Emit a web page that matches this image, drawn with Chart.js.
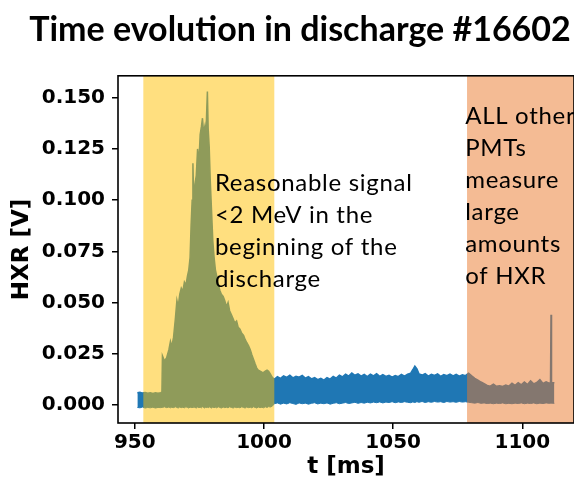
<!DOCTYPE html>
<html>
<head>
<meta charset="utf-8">
<script src="https://cdn.jsdelivr.net/npm/chart.js@4.4.1/dist/chart.umd.min.js"></script>
<style>
  html, body { margin: 0; padding: 0; background: #fff; overflow: hidden; }
  #wrap { width: 600px; height: 480px; }
</style>
</head>
<body>
<div id="wrap"><canvas id="hxrChart" width="600" height="480"></canvas></div>
<script>
// HXR signal envelope (max / min of the raw trace) over time in ms
const tMs = [
  951.0, 952.0, 953.0, 954.0, 955.0, 956.0, 957.0, 958.0, 959.0, 960.0, 960.5,
  960.7, 961.5, 962.3, 963.2, 963.8, 964.3, 965.0, 965.7, 966.3, 966.8, 967.4,
  968.0, 968.6, 969.2, 969.8, 970.4, 970.9, 971.4, 971.8, 972.2, 972.5, 972.8,
  973.3, 973.8, 974.3, 974.8, 975.3, 975.8, 976.2, 976.6, 977.1, 977.5, 977.9,
  978.1, 978.4, 978.8, 979.2, 979.7, 980.2, 980.7, 981.2, 981.7, 982.3, 982.9,
  983.5, 984.2, 984.8, 985.5, 986.1, 986.7, 987.4, 988.1, 988.7, 989.4, 990.0,
  990.7, 991.4, 992.1, 992.7, 993.3, 994.0, 994.7, 995.3, 995.9, 996.6, 997.2,
  997.8, 998.5, 999.2, 999.8, 1000.5, 1001.2, 1001.8, 1002.5, 1003.2,
  1004.0, 1005.2, 1006.4, 1007.6, 1008.8, 1010.0, 1011.2, 1012.4, 1013.6, 1014.8,
  1016.0, 1017.2, 1018.4, 1019.6, 1020.8, 1022.0, 1023.2, 1024.4, 1025.6, 1026.8,
  1028.0, 1029.2, 1030.4, 1031.6, 1032.8, 1034.0, 1035.2, 1036.4, 1037.6, 1038.8,
  1040.0, 1041.2, 1042.4, 1043.6, 1044.8, 1046.0, 1047.2, 1048.4, 1049.6, 1050.8,
  1052.0, 1053.2, 1054.4, 1055.6, 1056.8, 1057.6, 1058.4, 1059.2, 1060.0, 1061.2,
  1062.4, 1063.6, 1064.8, 1066.0, 1067.2, 1068.4, 1069.6, 1070.8, 1072.0, 1073.2,
  1074.4, 1075.6, 1076.8, 1078.0, 1079.2, 1080.4, 1081.6, 1082.8, 1084.0, 1085.2,
  1086.4, 1087.6, 1088.8, 1090.0, 1091.2, 1092.4, 1093.6, 1094.8, 1096.0, 1097.2,
  1098.4, 1099.6, 1100.8, 1102.0, 1103.2, 1104.4, 1105.6, 1106.8, 1108.0, 1109.2,
  1110.4, 1110.9, 1111.1, 1111.3, 1112.4
];

const hxrMax = [
  0.0060, 0.0062, 0.0058, 0.0061, 0.0057, 0.0060, 0.0056, 0.0059, 0.0057, 0.0060, 0.0062,
  0.0240, 0.0215, 0.0230, 0.0270, 0.0310, 0.0285, 0.0330, 0.0420, 0.0510, 0.0480, 0.0540,
  0.0570, 0.0555, 0.0600, 0.0585, 0.0630, 0.0660, 0.0720, 0.0880, 0.1000, 0.1180, 0.1000,
  0.1080, 0.1120, 0.1250, 0.1180, 0.1320, 0.1360, 0.1400, 0.1330, 0.1360, 0.1300, 0.1460,
  0.1530, 0.1350, 0.1260, 0.1100, 0.0950, 0.0800, 0.0720, 0.0660, 0.0630, 0.0590, 0.0560,
  0.0540, 0.0530, 0.0510, 0.0480, 0.0500, 0.0460, 0.0440, 0.0420, 0.0400, 0.0410, 0.0380,
  0.0370, 0.0350, 0.0340, 0.0320, 0.0305, 0.0290, 0.0270, 0.0245, 0.0225, 0.0200, 0.0180,
  0.0170, 0.0165, 0.0160, 0.0158, 0.0165, 0.0170, 0.0165, 0.0150, 0.0135,
  0.0125, 0.0138, 0.0130, 0.0142, 0.0135, 0.0145, 0.0132, 0.0140, 0.0136, 0.0144,
  0.0131, 0.0138, 0.0127, 0.0134, 0.0124, 0.0130, 0.0121, 0.0133, 0.0126, 0.0139,
  0.0131, 0.0146, 0.0137, 0.0150, 0.0141, 0.0156, 0.0145, 0.0152, 0.0141, 0.0149,
  0.0138, 0.0150, 0.0142, 0.0153, 0.0140, 0.0148, 0.0139, 0.0145, 0.0136, 0.0144,
  0.0138, 0.0149, 0.0141, 0.0150, 0.0155, 0.0172, 0.0190, 0.0176, 0.0152, 0.0146,
  0.0153, 0.0141, 0.0150, 0.0144, 0.0152, 0.0140, 0.0148, 0.0143, 0.0151, 0.0142,
  0.0149, 0.0141, 0.0147, 0.0143, 0.0155, 0.0142, 0.0130, 0.0121, 0.0112, 0.0104,
  0.0095, 0.0092, 0.0102, 0.0091, 0.0094, 0.0090, 0.0097, 0.0092, 0.0106, 0.0096,
  0.0109, 0.0098, 0.0112, 0.0100, 0.0118, 0.0103, 0.0110, 0.0124, 0.0105, 0.0113,
  0.0106, 0.0110, 0.0440, 0.0110, 0.0108
];

const hxrMin = [
  -0.0012, -0.0014, -0.0010, -0.0015, -0.0012, -0.0014, -0.0011, -0.0015, -0.0012, -0.0013, -0.0012,
  -0.0012, -0.0009, -0.0013, -0.0010, -0.0014, -0.0011, -0.0013, -0.0009, -0.0012, -0.0015, -0.0010,
  -0.0013, -0.0011, -0.0014, -0.0009, -0.0012, -0.0015, -0.0010, -0.0013, -0.0011, -0.0014, -0.0009,
  -0.0012, -0.0015, -0.0010, -0.0013, -0.0011, -0.0014, -0.0009, -0.0012, -0.0015, -0.0010, -0.0013,
  -0.0011, -0.0014, -0.0009, -0.0012, -0.0015, -0.0010, -0.0013, -0.0011, -0.0014, -0.0009, -0.0012,
  -0.0015, -0.0010, -0.0013, -0.0011, -0.0014, -0.0009, -0.0012, -0.0015, -0.0010, -0.0013, -0.0011,
  -0.0014, -0.0009, -0.0012, -0.0015, -0.0010, -0.0013, -0.0011, -0.0014, -0.0009, -0.0012, -0.0015,
  -0.0010, -0.0013, -0.0011, -0.0014, -0.0009, -0.0012, -0.0008, -0.0010, -0.0006,
  0.0006, 0.0010, 0.0004, 0.0009, 0.0005, 0.0011, 0.0007, 0.0003, 0.0010, 0.0006,
  0.0009, 0.0004, 0.0008, 0.0011, 0.0005, 0.0009, 0.0006, 0.0010, 0.0004, 0.0008,
  0.0011, 0.0006, 0.0009, 0.0012, 0.0007, 0.0010, 0.0013, 0.0008, 0.0012, 0.0009,
  0.0013, 0.0010, 0.0014, 0.0011, 0.0015, 0.0010, 0.0014, 0.0012, 0.0016, 0.0011,
  0.0015, 0.0012, 0.0016, 0.0013, 0.0011, 0.0015, 0.0012, 0.0016, 0.0013, 0.0017,
  0.0012, 0.0016, 0.0013, 0.0017, 0.0014, 0.0016, 0.0012, 0.0017, 0.0014, 0.0016,
  0.0013, 0.0017, 0.0014, 0.0016, 0.0013, 0.0011, 0.0009, 0.0012, 0.0008, 0.0010,
  0.0007, 0.0009, 0.0006, 0.0009, 0.0007, 0.0010, 0.0006, 0.0008, 0.0006, 0.0009,
  0.0007, 0.0010, 0.0006, 0.0009, 0.0007, 0.0010, 0.0006, 0.0009, 0.0007, 0.0010,
  0.0008, 0.0008, 0.0010, 0.0009, 0.0008
];

const xTicks = [950, 1000, 1050, 1100];
const yTicks = [0, 0.025, 0.05, 0.075, 0.1, 0.125, 0.15];

// shaded time windows [start, end] in ms
const earlyWindow = [953.3, 1004.0];
const lateWindow = [1078.6, 1125];

const earlyNote = ['Reasonable signal', '<2 MeV in the', 'beginning of the', 'discharge'];
const lateNote = ['ALL other', 'PMTs', 'measure', 'large', 'amounts', 'of HXR'];

const blue = '#1f77b4';

const overlays = {
  id: 'overlays',
  afterDatasetsDraw(chart) {
    const { ctx, chartArea: a, scales: { x, y } } = chart;
    ctx.save();
    ctx.beginPath();
    ctx.rect(a.left, a.top, a.right - a.left, a.bottom - a.top);
    ctx.clip();

    const band = (win, color) => {
      const x0 = x.getPixelForValue(win[0]);
      const x1 = x.getPixelForValue(win[1]);
      ctx.fillStyle = color;
      ctx.fillRect(x0, a.top, x1 - x0, a.bottom - a.top);
    };
    band(earlyWindow, 'rgba(255, 192, 0, 0.5)');
    band(lateWindow, 'rgba(233, 119, 41, 0.5)');
    ctx.restore();

    // axes frame
    ctx.save();
    ctx.strokeStyle = '#000';
    ctx.lineWidth = 1.6;
    ctx.strokeRect(a.left, a.top, a.right - a.left, a.bottom - a.top);

    // notes
    ctx.fillStyle = '#000';
    ctx.font = '24px Lato';
    ctx.letterSpacing = '0.7px';
    ctx.textAlign = 'left';
    ctx.textBaseline = 'alphabetic';
    const lineGap = 32;
    const ex = x.getPixelForValue(981.0), ey = y.getPixelForValue(0.1045);
    earlyNote.forEach((s, i) => ctx.fillText(s, ex, ey + i * lineGap));
    const lx = x.getPixelForValue(1077.9), ly = y.getPixelForValue(0.1373);
    lateNote.forEach((s, i) => ctx.fillText(s, lx, ly + i * lineGap));
    ctx.restore();
  }
};

const tickFont = { family: 'DejaVu Sans', size: 20, weight: 'bold' };
const titleFont = { family: 'DejaVu Sans', size: 23, weight: 'bold' };

new Chart(document.getElementById('hxrChart'), {
  type: 'line',
  data: {
    datasets: [
      {
        label: 'HXR min',
        data: tMs.map((t, i) => ({ x: t, y: hxrMin[i] })),
        borderColor: blue,
        borderWidth: 1,
        pointRadius: 0,
        tension: 0,
        fill: false
      },
      {
        label: 'HXR max',
        data: tMs.map((t, i) => ({ x: t, y: hxrMax[i] })),
        borderColor: blue,
        backgroundColor: blue,
        borderWidth: 1.5,
        pointRadius: 0,
        tension: 0,
        fill: '-1'
      }
    ]
  },
  options: {
    responsive: false,
    animation: false,
    devicePixelRatio: 1,
    // equal side padding keeps the title centred at x=300
    layout: { padding: { left: 26, right: 26, top: 0, bottom: 0 } },
    plugins: {
      legend: { display: false },
      tooltip: { enabled: false },
      title: {
        display: true,
        text: 'Time evolution in discharge #16602',
        color: '#000',
        font: { family: 'Lato', size: 34, weight: 'bold', lineHeight: 1.2 },
        padding: { top: 10, bottom: 25 }
      }
    },
    scales: {
      x: {
        type: 'linear',
        min: 943.5,
        max: 1120,
        afterBuildTicks: s => { s.ticks = xTicks.map(v => ({ value: v })); },
        afterFit: s => { s.height = 57; },
        border: { display: false },
        grid: { drawOnChartArea: false, drawTicks: true, tickLength: 6, color: '#000', lineWidth: 1.5 },
        ticks: { color: '#000', font: tickFont, padding: 2, maxRotation: 0, callback: v => String(v) },
        title: { display: true, text: 't [ms]', color: '#000', font: { ...titleFont, lineHeight: 1.1 }, padding: { top: 0, bottom: 0 } }
      },
      y: {
        min: -0.0088,
        max: 0.1607,
        afterBuildTicks: s => { s.ticks = yTicks.map(v => ({ value: v })); },
        afterFit: s => { s.width = 92; },
        border: { display: false },
        grid: { drawOnChartArea: false, drawTicks: true, tickLength: 6, color: '#000', lineWidth: 1.5 },
        ticks: { color: '#000', font: tickFont, padding: 7, callback: v => v.toFixed(3) },
        title: { display: true, text: 'HXR [V]', color: '#000', font: { ...titleFont, lineHeight: 1.2 }, padding: { top: -18, bottom: 0 } }
      }
    }
  },
  plugins: [overlays]
});
</script>
</body>
</html>
